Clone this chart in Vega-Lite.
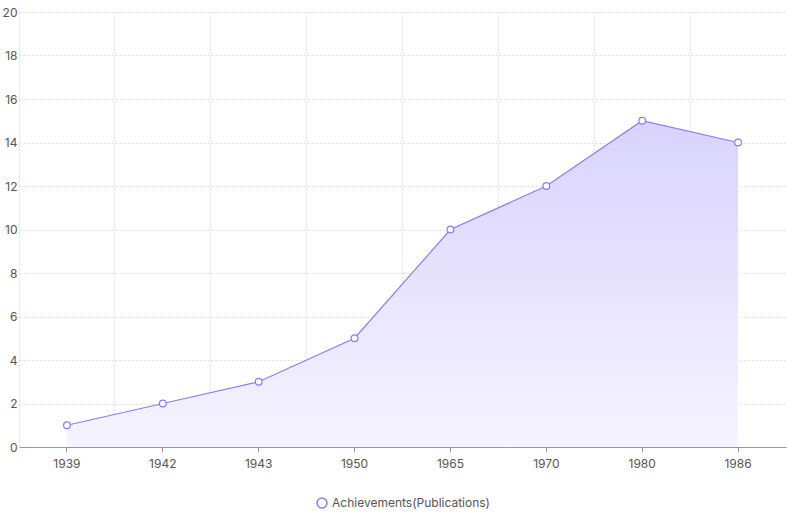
{
  "$schema": "https://vega.github.io/schema/vega-lite/v6.json",
  "width": 788,
  "height": 515,
  "autosize": {"type": "fit", "contains": "padding"},
  "padding": {"left": 2, "right": 2, "top": 6, "bottom": 4},
  "config": {
    "view": {"stroke": null},
    "font": "Inter",
    "axis": {"labelColor": "#555", "labelFontSize": 12, "gridColor": "#ddd", "gridDash": [2, 2], "domainColor": "#999", "tickColor": "#999", "titleColor": "#555"},
    "legend": {"layout": {"bottom": {"anchor": "middle"}}}
  },
  "data": {"values": [
    {"year": "1939", "v": 1, "s": "Achievements(Publications)"},
    {"year": "1942", "v": 2, "s": "Achievements(Publications)"},
    {"year": "1943", "v": 3, "s": "Achievements(Publications)"},
    {"year": "1950", "v": 5, "s": "Achievements(Publications)"},
    {"year": "1965", "v": 10, "s": "Achievements(Publications)"},
    {"year": "1970", "v": 12, "s": "Achievements(Publications)"},
    {"year": "1980", "v": 15, "s": "Achievements(Publications)"},
    {"year": "1986", "v": 14, "s": "Achievements(Publications)"}
  ]},
  "layer": [
    {
      "mark": {"type": "area", "line": false, "color": {"gradient": "linear", "x1": 0, "y1": 0, "x2": 0, "y2": 1, "stops": [{"offset": 0, "color": "#d9d3fd"}, {"offset": 1, "color": "#f6f4ff"}]}},
      "encoding": {
        "x": {"field": "year", "type": "ordinal", "sort": null, "scale": {"type": "band", "paddingInner": 0, "paddingOuter": 0}, "axis": {"orient": "bottom", "bandPosition": 0, "grid": true, "labels": false, "ticks": false, "domain": false, "title": null}},
        "y": {"field": "v", "type": "quantitative", "scale": {"domain": [0, 20]}, "axis": {"tickCount": 10, "title": null, "domain": false, "ticks": false, "grid": true}}
      }
    },
    {
      "mark": {"type": "line", "strokeWidth": 1.2, "point": {"filled": false, "fill": "white", "stroke": "#8b7cf6", "size": 45, "strokeWidth": 1.2}},
      "encoding": {
        "x": {"field": "year", "type": "ordinal", "sort": null, "axis": {"orient": "bottom", "grid": false, "title": null, "labelAngle": 0, "labelPadding": 6, "tickSize": 5}},
        "y": {"field": "v", "type": "quantitative"},
        "color": {"field": "s", "type": "nominal", "scale": {"range": ["#8b7cf6"]}, "legend": {"orient": "bottom", "title": null, "symbolType": "circle", "symbolFillColor": "white", "labelFontSize": 12, "labelColor": "#555", "symbolStrokeWidth": 1.5, "offset": 28}}
      }
    }
  ],
  "resolve": {"axis": {"x": "independent"}}
}
